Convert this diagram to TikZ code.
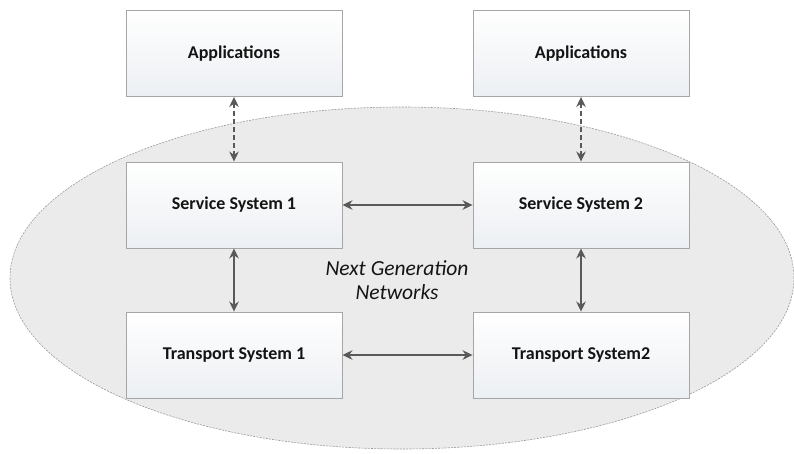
\documentclass[tikz,border=0pt]{standalone}
\usepackage{fontspec}
\setmainfont{Carlito}
\usetikzlibrary{arrows.meta,shapes.geometric}
\definecolor{boxline}{HTML}{A6A6A6}
\definecolor{boxbottom}{HTML}{ECEFF3}
\definecolor{cloudfill}{HTML}{EBEBEB}
\definecolor{cloudline}{HTML}{9A9A9A}
\definecolor{linkcol}{HTML}{595959}
\tikzset{
  sysbox/.style={draw=boxline, line width=0.9pt, top color=white, bottom color=boxbottom,
    minimum width=216pt, minimum height=86pt, inner sep=0pt,
    font=\fontsize{18}{22}\selectfont\bfseries, text=black!92},
  link/.style={draw=linkcol, line width=1.7pt, {Stealth[length=10pt,width=9.5pt]}-{Stealth[length=10pt,width=9.5pt]}},
  dlink/.style={link, dash pattern=on 5pt off 3pt},
}
\begin{document}
\begin{tikzpicture}[x=1pt,y=-1pt]
  \useasboundingbox[fill=white] (0,0) rectangle (794,453);
  % the NGN domain
  \node[ellipse, draw=cloudline, fill=cloudfill, dashed, dash pattern=on 2pt off 1.2pt, line width=0.6pt,
        minimum width=784pt, minimum height=342pt, inner sep=0pt] (ngn) at (402,278) {};
  \node[font=\fontsize{21.5}{24.5}\selectfont\itshape, align=center, text=black!92] (ngnlabel) at (397,280)
        {Next Generation\\Networks};
  % boxes
  \node[sysbox] (app1) at (234,53.5) {Applications};
  \node[sysbox] (app2) at (581,53.5) {Applications};
  \node[sysbox] (ss1) at (234,205) {Service System 1};
  \node[sysbox] (ss2) at (581,205) {Service System 2};
  \node[sysbox] (ts1) at (234,355) {Transport System 1};
  \node[sysbox] (ts2) at (581,355) {Transport System2};
  % links
  \draw[dlink] (app1) -- (ss1);
  \draw[dlink] (app2) -- (ss2);
  \draw[link] (ss1) -- (ss2);
  \draw[link] (ts1) -- (ts2);
  \draw[link] (ss1) -- (ts1);
  \draw[link] (ss2) -- (ts2);
\end{tikzpicture}
\end{document}
